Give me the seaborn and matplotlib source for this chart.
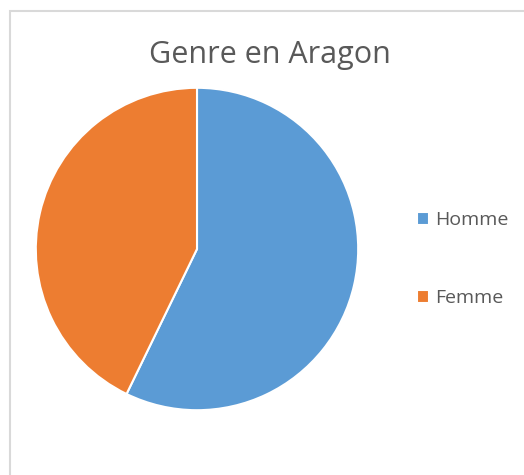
import numpy as np
import matplotlib.pyplot as plt
import matplotlib.patches as mpatches
import seaborn as sns

# Data
# --------------
labels = ["Homme", "Femme"]
shares = [57.2, 42.8]
colors = ["#5B9BD5", "#ED7D31"]

sns.set_theme(style="white")
plt.rcParams['font.family'] = ['Open Sans', 'DejaVu Sans']

fig = plt.figure(figsize=(5.24, 4.75), dpi=100)

# light frame like the spreadsheet chart box
fig.patches.append(mpatches.Rectangle((10 / 524, -0.1), 1.2, (475 - 11) / 475 + 0.1,
                                      transform=fig.transFigure, fill=False,
                                      edgecolor="#D9D9D9", linewidth=1.5))

ax = fig.add_axes([35 / 524, 64 / 475, 324 / 524, 324 / 475])
wedges, _ = ax.pie(shares, colors=colors, startangle=90, counterclock=False,
                   wedgeprops=dict(edgecolor="white", linewidth=1.5))
ax.set_xlim(-1.005, 1.005)
ax.set_ylim(-1.005, 1.005)
ax.set_aspect("equal")

fig.text(270 / 524, 1 - 55 / 475, "Genre en Aragon", ha="center", va="center",
         fontsize=22, color="#595959")

leg = fig.legend(wedges, labels, loc="center left", bbox_to_anchor=(399 / 524, 1 - 259 / 475),
                 frameon=False, fontsize=14, labelcolor="#595959",
                 handlelength=0.65, handleheight=0.65, handletextpad=0.3, labelspacing=3.1)

fig.savefig("out.png", dpi=100)
